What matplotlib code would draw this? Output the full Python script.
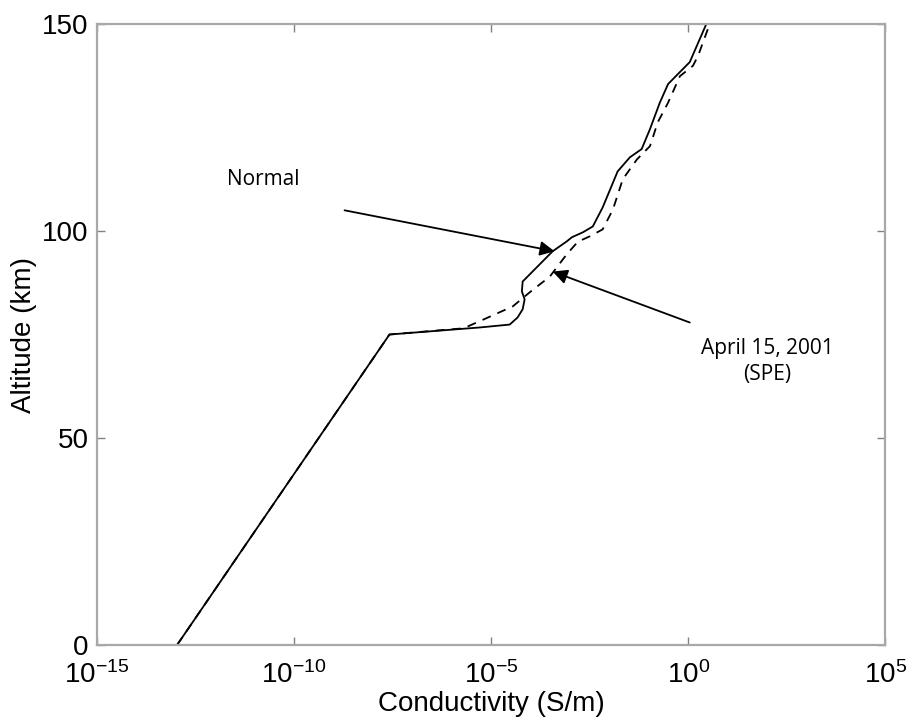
import numpy as np
import matplotlib.pyplot as plt

# altitude (km) vs log10 conductivity (S/m)
normal_alt = [0, 75, 76.7, 77.4, 79.1, 81.1, 83.5, 85.4, 87.8, 95.1, 97.5, 98.5, 99.7,
              101.1, 105.7, 114.4, 117.8, 119.8, 124.6, 131, 135.5, 138.4, 140.8, 150]
normal_logsig = [-12.97, -7.58, -5.29, -4.53, -4.33, -4.2, -4.15, -4.22, -4.2, -3.44, -3.08,
                 -2.95, -2.67, -2.42, -2.17, -1.79, -1.48, -1.18, -0.97, -0.72, -0.51,
                 -0.21, 0.04, 0.46]

spe_alt = [0, 75, 76.5, 78.6, 81.8, 85.2, 89, 94.4, 97.4, 98.7, 100.4, 105.2, 112.5,
           117.3, 120.5, 126.3, 131, 137.4, 139.9, 142.3, 148.8, 150]
spe_logsig = [-12.97, -7.58, -5.7, -5.2, -4.45, -4.02, -3.51, -3.08, -2.8, -2.5, -2.17,
              -1.91, -1.66, -1.30, -0.97, -0.77, -0.51, -0.21, 0.12, 0.25, 0.50, 0.53]

xticks = [1e-15, 1e-10, 1e-5, 1e0, 1e5]
xticklabels = [r"$10^{-15}$", r"$10^{-10}$", r"$10^{-5}$", r"$10^{0}$", r"$10^{5}$"]
yticks = [0, 50, 100, 150]

plt.rcParams["font.family"] = ["Liberation Sans", "DejaVu Sans"]
plt.rcParams["mathtext.fontset"] = "custom"
plt.rcParams["mathtext.rm"] = "Liberation Sans"
plt.rcParams["mathtext.it"] = "Liberation Sans"

fig = plt.figure(figsize=(9.07, 7.21), dpi=100)
ax = fig.add_axes([0.107, 0.1054, 0.869, 0.8613])

ax.plot(10 ** np.array(normal_logsig), normal_alt, color="black", lw=1.3)
ax.plot(10 ** np.array(spe_logsig), spe_alt, color="black", lw=1.3, dashes=(5, 4))

ax.set_xscale("log")
ax.set_xlim(1e-15, 1e5)
ax.set_ylim(0, 150)
ax.set_xticks(xticks)
ax.set_xticklabels(xticklabels)
ax.minorticks_off()
ax.set_yticks(yticks)

for s in ax.spines.values():
    s.set_color("#a8a8a8")
    s.set_linewidth(1.6)
ax.tick_params(direction="in", length=6, width=1, color="#808080",
               labelsize=20, top=True, right=True)
ax.tick_params(axis="x", pad=12)
ax.tick_params(axis="y", pad=6)

ax.set_xlabel("Conductivity (S/m)", fontsize=20, labelpad=1)
ax.set_ylabel("Altitude (km)", fontsize=20, labelpad=4)

arrow = dict(arrowstyle="-|>", color="black", lw=1.3, mutation_scale=22,
             shrinkA=0, shrinkB=0)
ax.annotate("", xy=(10 ** -3.39, 95.1), xytext=(10 ** -8.72, 105.0), arrowprops=arrow)
ax.annotate("", xy=(10 ** -3.44, 90.2), xytext=(10 ** 0.04, 77.9), arrowprops=arrow)

ax.text(10 ** -11.7, 112.5, "Normal", fontsize=15, family="Open Sans",
        ha="left", va="center")
ax.text(10 ** 2.0, 74.2, "April 15, 2001\n(SPE)", fontsize=15, family="Open Sans",
        ha="center", va="top", linespacing=1.35)

fig.savefig("out.png", dpi=100)
